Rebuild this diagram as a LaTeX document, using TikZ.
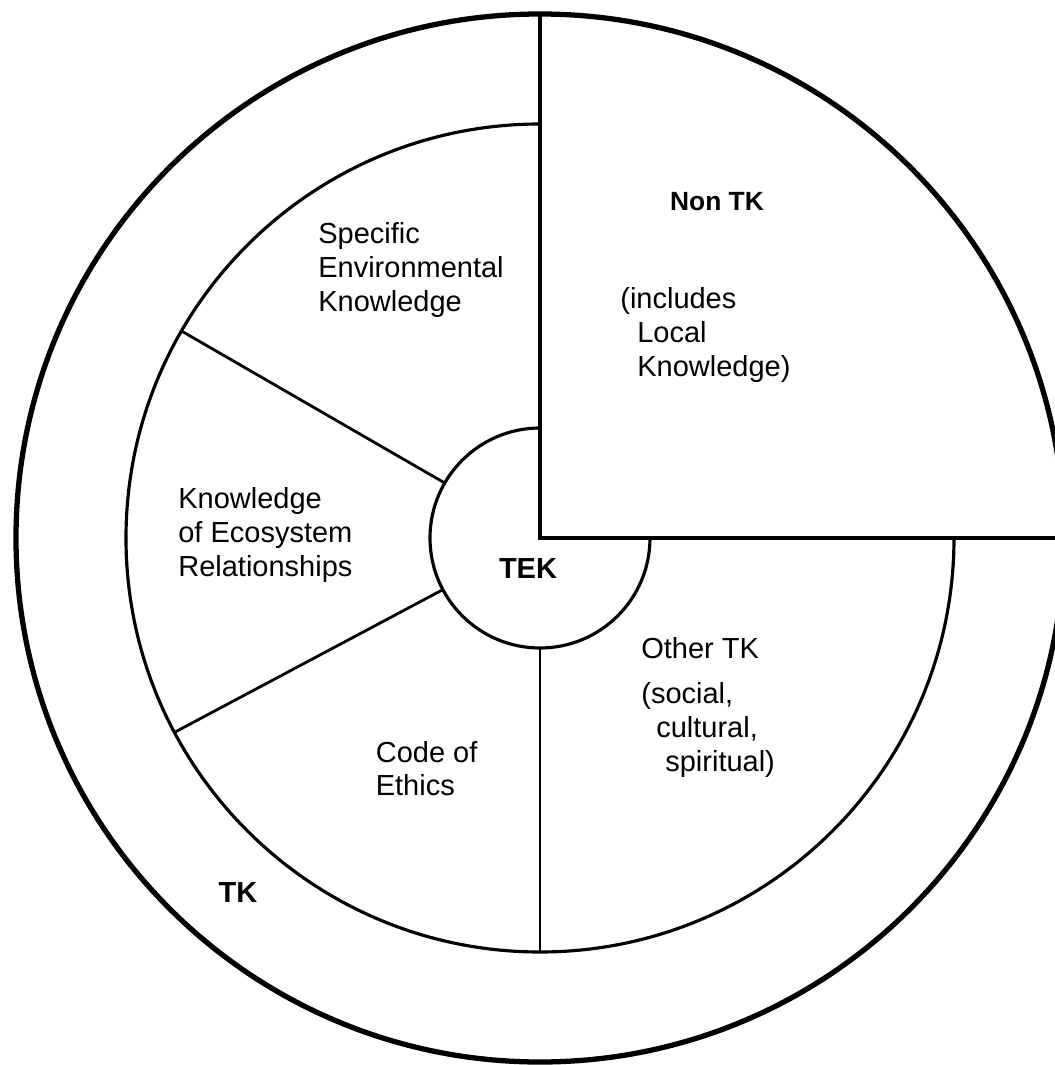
\documentclass[tikz,border=0pt]{standalone}
\usepackage{fontspec}
\setmainfont{Liberation Sans}

\begin{document}
\begin{tikzpicture}[
        lbl/.style={align=left, inner sep=0pt, font=\fontsize{16.5}{19.1}\selectfont},
        boldlbl/.style={inner sep=0pt, font=\fontsize{16.5}{19.1}\selectfont\bfseries}
    ]
        \clip (-10.8, -10.54) rectangle (10.3, 10.76);
        % rings
        \draw[line width=3pt] (0, 0) circle (10.48);
        \draw[line width=1.8pt] (0, 8.28) arc (90:360:8.28);
        \draw[line width=1.8pt] (0, 2.2) arc (90:360:2.2);
        % non TK corner
        \draw[line width=2.1pt] (0, 10.48) -- (0, 0) -- (10.48, 0);
        % spokes
        \draw[line width=1.6pt] (150:2.2) -- (150:8.28);
        \draw[line width=1.6pt] (208:2.2) -- (208:8.28);
        \draw[line width=1.6pt] (270:2.2) -- (270:8.28);
        % labels
        \node[lbl, anchor=west] (envknow) at (-4.44, 5.36) {Specific\\Environmental\\Knowledge};
        \node[lbl, anchor=west] (ecorel) at (-7.24, 0.06) {Knowledge\\of Ecosystem\\Relationships};
        \node[lbl, anchor=west] (ethics) at (-3.29, -4.61) {Code of\\Ethics};
        \node[boldlbl] (tek) at (-0.24, -0.62) {TEK};
        \node[boldlbl] (tk) at (-6.04, -7.1) {TK};
        \node[boldlbl, font=\fontsize{15}{18}\selectfont\bfseries] (nontk) at (3.54, 6.72) {Non TK};
        \node[lbl, anchor=west] (localknow) at (1.6, 4.06) {(includes\\\hspace*{0.34cm}Local\\\hspace*{0.34cm}Knowledge)};
        \node[lbl, anchor=west] (othertk) at (2.02, -2.2) {Other TK};
        \node[lbl, anchor=west] (social) at (2.02, -3.84) {(social,\\\hspace*{0.3cm}cultural,\\\hspace*{0.48cm}spiritual)};
    \end{tikzpicture}
\end{document}
